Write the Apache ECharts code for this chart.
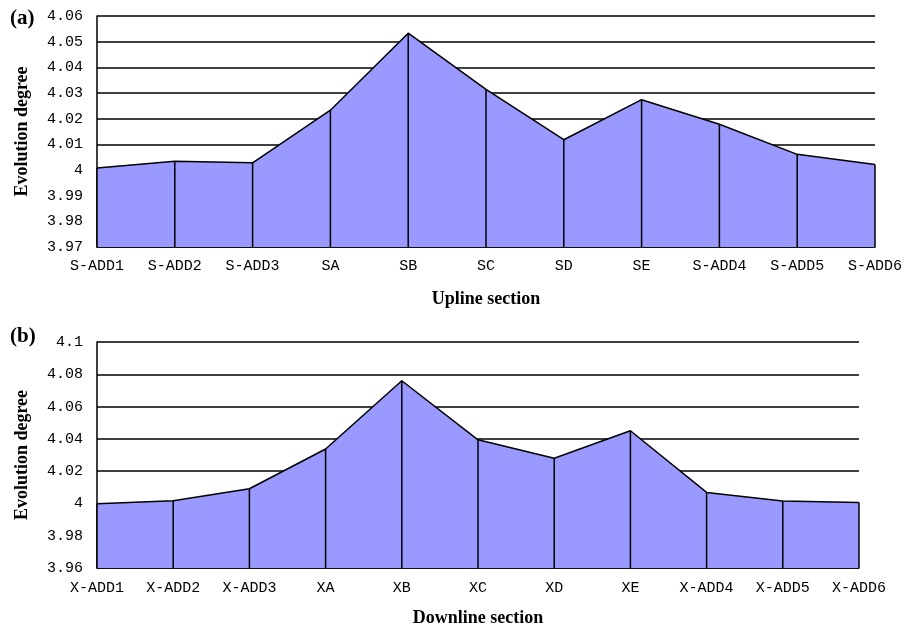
<!DOCTYPE html>
<html>
<head>
<meta charset="utf-8">
<script src="https://cdn.jsdelivr.net/npm/echarts@6/dist/echarts.min.js"></script>
<style>html,body{margin:0;padding:0;background:#fff;}#c{width:919px;height:628px;}</style>
</head>
<body>
<div id="c"></div>
<script>
const uplineCats = ['S-ADD1','S-ADD2','S-ADD3','SA','SB','SC','SD','SE','S-ADD4','S-ADD5','S-ADD6'];
const uplineVals = [4.0008, 4.0034, 4.0028, 4.0233, 4.0533, 4.0314, 4.0118, 4.0274, 4.0178, 4.0061, 4.0021];
const downlineCats = ['X-ADD1','X-ADD2','X-ADD3','XA','XB','XC','XD','XE','X-ADD4','X-ADD5','X-ADD6'];
const downlineVals = [3.9998, 4.0017, 4.0091, 4.0337, 4.0760, 4.0394, 4.0280, 4.0450, 4.0068, 4.0015, 4.0006];
const upAxis = {min: 3.97, max: 4.06, interval: 0.01};
const downAxis = {min: 3.96, max: 4.10, interval: 0.02};

const chart = echarts.init(document.getElementById('c'), null, {renderer: 'canvas'});
const tickFont = {fontFamily: 'Liberation Mono', fontSize: 15, color: '#000'};
const nameFont = {fontFamily: 'Liberation Serif', fontWeight: 'bold', fontSize: 18, color: '#000'};

function xAx(idx, cats, name, gap, margin) {
  return {
    type: 'category', gridIndex: idx, data: cats, boundaryGap: false,
    axisLine: {lineStyle: {color: '#000', width: 1.5}},
    axisTick: {show: false},
    axisLabel: Object.assign({margin: margin, interval: 0}, tickFont),
    splitLine: {show: false},
    name: name, nameLocation: 'middle', nameGap: gap, nameTextStyle: nameFont
  };
}
function yAx(idx, ax) {
  return {
    type: 'value', gridIndex: idx, min: ax.min, max: ax.max, interval: ax.interval,
    axisLine: {show: true, lineStyle: {color: '#000', width: 1.5}},
    axisTick: {show: false},
    axisLabel: Object.assign({margin: 14}, tickFont),
    splitLine: {show: true, lineStyle: {color: '#000', width: 1.5}},
    name: 'Evolution degree', nameLocation: 'middle', nameGap: 66, nameTextStyle: nameFont
  };
}
function areaSeries(idx, vals) {
  return {
    type: 'line', xAxisIndex: idx, yAxisIndex: idx, data: vals,
    showSymbol: false, symbol: 'none',
    lineStyle: {color: '#000', width: 1.5},
    areaStyle: {color: '#9999ff', opacity: 1, origin: 'start'},
    z: 3, animation: false
  };
}
function dropSeries(idx, vals) {
  return {
    type: 'bar', xAxisIndex: idx, yAxisIndex: idx, data: vals,
    barWidth: 1.5, itemStyle: {color: '#000'}, z: 4, animation: false
  };
}

chart.setOption({
  animation: false,
  grid: [
    {left: 97, right: 44, top: 16, height: 231},
    {left: 97, right: 60, top: 342, height: 226}
  ],
  xAxis: [xAx(0, uplineCats, 'Upline section', 43, 12), xAx(1, downlineCats, 'Downline section', 41, 13)],
  yAxis: [yAx(0, upAxis), yAx(1, downAxis)],
  graphic: [
    {type: 'text', left: 10, top: 8, style: {text: '(a)', font: 'bold 21px "Liberation Serif"', fill: '#000'}},
    {type: 'text', left: 10, top: 326, style: {text: '(b)', font: 'bold 21px "Liberation Serif"', fill: '#000'}}
  ],
  series: [areaSeries(0, uplineVals), dropSeries(0, uplineVals), areaSeries(1, downlineVals), dropSeries(1, downlineVals)]
});
</script>
</body>
</html>
